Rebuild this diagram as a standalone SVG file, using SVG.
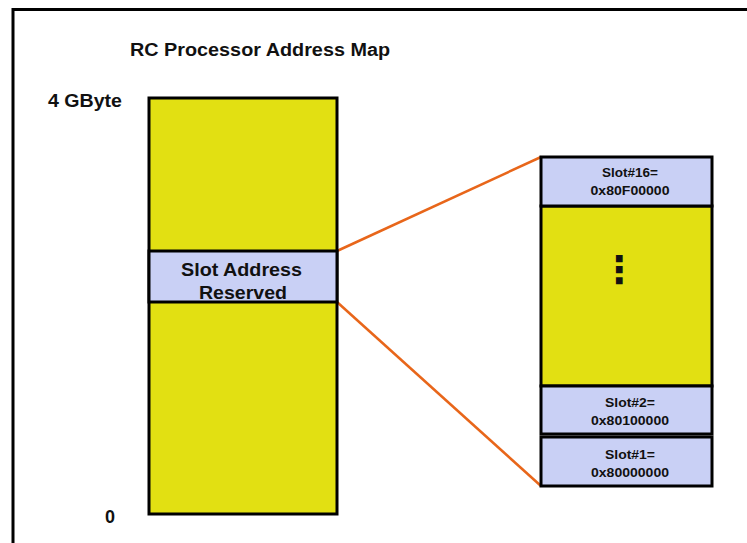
<svg xmlns="http://www.w3.org/2000/svg" width="747" height="543" viewBox="0 0 747 543">
<style>
text{font-family:"Liberation Sans",Arial,sans-serif;font-weight:bold;fill:#111;}
.y{fill:#E2E012;stroke:#000;stroke-width:3;}
.b{fill:#C9D0F5;stroke:#000;stroke-width:3;}
.c{stroke:#E8661A;stroke-width:2.5;fill:none;}
.s{font-size:13.5px;text-anchor:middle;}
.l{font-size:18px;}
</style>
<rect width="747" height="543" fill="#fff"/>
<path d="M13,543 V9.5 H747" fill="none" stroke="#000" stroke-width="3"/>
<text class="l" x="130" y="56" textLength="260" lengthAdjust="spacingAndGlyphs">RC Processor Address Map</text>
<text class="l" x="48" y="107" textLength="74" lengthAdjust="spacingAndGlyphs">4 GByte</text>
<text class="l" x="105" y="523">0</text>
<g id="connectors">
<line class="c" x1="337" y1="251" x2="541" y2="157"/>
<line class="c" x1="337" y1="302" x2="541" y2="486"/>
</g>
<g id="address-map">
<rect class="y" x="149" y="98" width="188" height="416"/>
</g>
<g id="slot-reserved">
<rect class="b" x="149" y="251" width="188" height="51"/>
<text class="l" x="181" y="276" textLength="121" lengthAdjust="spacingAndGlyphs">Slot Address</text>
<text class="l" x="199" y="299" textLength="88" lengthAdjust="spacingAndGlyphs">Reserved</text>
</g>
<g id="slot-range">
<rect class="y" x="541" y="206" width="171" height="180"/>
<text x="619" y="283" font-size="38" text-anchor="middle" style="font-family:'DejaVu Sans',sans-serif">⋮</text>
</g>
<g id="slot16">
<rect class="b" x="541" y="157" width="171" height="49"/>
<text class="s" x="630" y="177" textLength="56" lengthAdjust="spacingAndGlyphs">Slot#16=</text>
<text class="s" x="630" y="195" textLength="79" lengthAdjust="spacingAndGlyphs">0x80F00000</text>
</g>
<g id="slot2">
<rect class="b" x="541" y="386" width="171" height="48"/>
<text class="s" x="630" y="407" textLength="50" lengthAdjust="spacingAndGlyphs">Slot#2=</text>
<text class="s" x="630" y="425" textLength="78" lengthAdjust="spacingAndGlyphs">0x80100000</text>
</g>
<g id="slot1">
<rect class="b" x="541" y="437" width="171" height="49"/>
<text class="s" x="630" y="459" textLength="50" lengthAdjust="spacingAndGlyphs">Slot#1=</text>
<text class="s" x="630" y="477" textLength="78" lengthAdjust="spacingAndGlyphs">0x80000000</text>
</g>
</svg>
